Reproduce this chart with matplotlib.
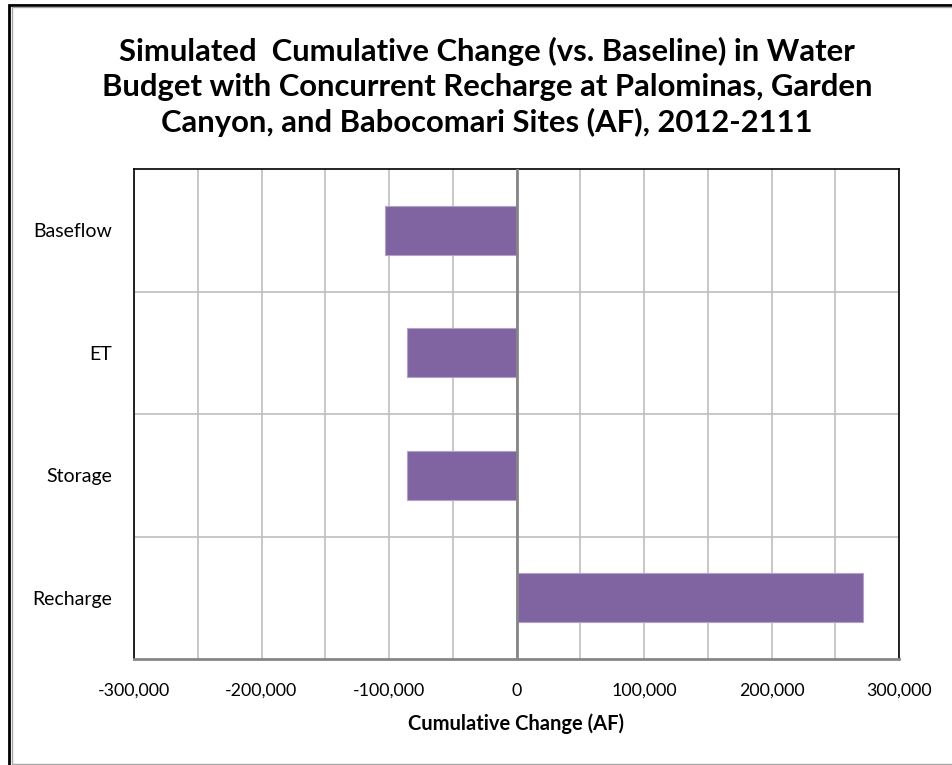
import matplotlib
matplotlib.use("Agg")
import matplotlib.pyplot as plt
from matplotlib.patches import Rectangle
from matplotlib.ticker import FuncFormatter, MultipleLocator

categories = ["Recharge", "Storage", "ET", "Baseflow"]
values = [272000, -85900, -85900, -103100]
x_ticks = [-300000, -200000, -100000, 0, 100000, 200000, 300000]

W, H = 952, 765
fig = plt.figure(figsize=(W / 100, H / 100), dpi=100)
fig.patch.set_facecolor("white")

# outer frame
fig.add_artist(Rectangle((8.5 / W, -0.01), 1.0, (H - 4.5) / H + 0.01, transform=fig.transFigure,
                         fill=False, edgecolor="black", linewidth=2.0))
fig.add_artist(Rectangle((11.5 / W, 1.5 / H), 1.0, (H - 8.5) / H, transform=fig.transFigure,
                         fill=False, edgecolor="#A6A6A6", linewidth=1.0))

ax = fig.add_axes([134 / W, 1 - 659 / H, (899 - 134) / W, (659 - 169) / H])
y = list(range(len(categories)))
ax.barh(y, values, height=0.4, color="#8064A2", edgecolor="#B3A2C7", linewidth=0.8, zorder=3)

ax.set_xlim(-300000, 300000)
ax.set_ylim(-0.5, len(categories) - 0.5)
ax.set_xticks(x_ticks)
ax.xaxis.set_minor_locator(MultipleLocator(50000))
ax.xaxis.set_major_formatter(FuncFormatter(lambda v, p: f"{int(v):,}"))
ax.set_yticks(y)
ax.set_yticklabels(categories)
ax.set_yticks([0.5, 1.5, 2.5], minor=True)

ax.grid(True, which="both", axis="x", color="#BFBFBF", linewidth=1.2, zorder=0)
ax.grid(True, which="minor", axis="y", color="#BFBFBF", linewidth=1.2, zorder=0)
ax.axvline(0, color="#868686", linewidth=2.0, zorder=4)

ax.tick_params(axis="both", which="both", length=0)
ax.tick_params(axis="x", labelsize=12.8, pad=17)
ax.tick_params(axis="y", labelsize=14, pad=16)
for lab in ax.get_xticklabels() + ax.get_yticklabels():
    lab.set_fontfamily("Lato")

for side in ["left", "right", "top"]:
    ax.spines[side].set_color("black")
    ax.spines[side].set_linewidth(1.2)
ax.spines["bottom"].set_color("#868686")
ax.spines["bottom"].set_linewidth(2.0)

ax.set_xlabel("Cumulative Change (AF)", fontsize=14.5, fontweight="bold", family="Lato", labelpad=11)

fig.text(487 / W, 1 - 87 / H,
         "Simulated  Cumulative Change (vs. Baseline) in Water\n"
         "Budget with Concurrent Recharge at Palominas, Garden\n"
         "Canyon, and Babocomari Sites (AF), 2012-2111",
         ha="center", va="center", fontsize=22.3, fontweight="bold", family="Lato",
         linespacing=1.28)

fig.savefig("out.png", dpi=100, facecolor="white")
